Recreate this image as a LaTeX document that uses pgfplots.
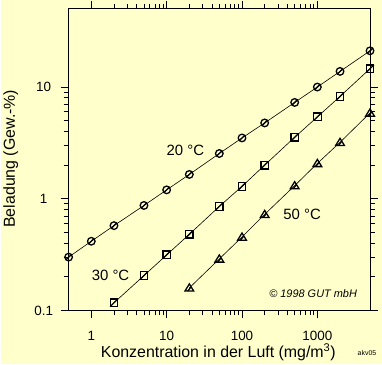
\documentclass[border=0pt]{standalone}
\usepackage{pgfplots}
\pgfplotsset{compat=1.18}
\usepackage{fontspec}
\setmainfont{Liberation Sans}
\definecolor{bg}{HTML}{FFFFCC}
\pgfdeclareplotmark{cslash}{%
  \pgfpathcircle{\pgfpointorigin}{\pgfplotmarksize}\pgfusepathqstroke
  \pgfpathmoveto{\pgfpoint{-0.7\pgfplotmarksize}{-0.7\pgfplotmarksize}}%
  \pgfpathlineto{\pgfpoint{0.7\pgfplotmarksize}{0.7\pgfplotmarksize}}\pgfusepathqstroke}
\pgfdeclareplotmark{sslash}{%
  \pgfpathrectangle{\pgfpoint{-\pgfplotmarksize}{-\pgfplotmarksize}}{\pgfpoint{2\pgfplotmarksize}{2\pgfplotmarksize}}\pgfusepathqstroke
  \pgfpathmoveto{\pgfpoint{-\pgfplotmarksize}{-\pgfplotmarksize}}%
  \pgfpathlineto{\pgfpoint{\pgfplotmarksize}{\pgfplotmarksize}}\pgfusepathqstroke}
\pgfdeclareplotmark{tslash}{%
  \pgfpathmoveto{\pgfpoint{0pt}{\pgfplotmarksize}}%
  \pgfpathlineto{\pgfpoint{-1.1\pgfplotmarksize}{-0.8\pgfplotmarksize}}%
  \pgfpathlineto{\pgfpoint{1.1\pgfplotmarksize}{-0.8\pgfplotmarksize}}%
  \pgfpathclose\pgfusepathqstroke
  \pgfpathmoveto{\pgfpoint{-0.4\pgfplotmarksize}{-0.8\pgfplotmarksize}}%
  \pgfpathlineto{\pgfpoint{0.4\pgfplotmarksize}{0.2\pgfplotmarksize}}\pgfusepathqstroke}
\begin{document}
\begin{tikzpicture}[x=1bp,y=1bp]
\fill[bg] (0,0) rectangle (382,365);
\begin{axis}[at={(68bp,54bp)}, anchor=south west, scale only axis,
  width=302bp, height=302bp,
  xmode=log, ymode=log, xmin=0.5, xmax=5000, ymin=0.1, ymax=50,
  axis line style={line width=1bp},
  tick style={black, line width=0.9bp},
  tick align=outside, major tick length=8bp, minor tick length=5bp,
  xtick={1,10,100,1000}, xticklabels={1,10,100,1000},
  ytick={0.1,1,10}, yticklabels={0.1,1,10},
  xticklabel style={font=\fontsize{13.5}{14}\selectfont, anchor=center, yshift=-18bp},
  yticklabel style={font=\fontsize{13.5}{14}\selectfont, anchor=center, xshift=-17bp},
  clip=false]
\addplot[black, line width=0.6bp, mark=cslash, mark size=3.8bp, mark options={line width=1.3bp}] coordinates {
(0.5,0.30) (1,0.416) (2,0.574) (5,0.87) (10,1.20) (20,1.65) (50,2.54) (100,3.5) (200,4.77) (500,7.28) (1000,10.0) (2000,13.8) (5000,21.1)};
\addplot[black, line width=0.6bp, mark=sslash, mark size=3.8bp, mark options={line width=1.3bp}] coordinates {
(2,0.117) (5,0.205) (10,0.314) (20,0.48) (50,0.853) (100,1.29) (200,2.0) (500,3.55) (1000,5.4) (2000,8.24) (5000,14.6)};
\addplot[black, line width=0.6bp, mark=tslash, mark size=4bp, mark options={line width=1.3bp}] coordinates {
(20,0.159) (50,0.289) (100,0.454) (200,0.724) (500,1.31) (1000,2.07) (2000,3.2) (5000,5.86)};
\end{axis}
\node[font=\fontsize{16}{18}\selectfont] at (218,12) {Konzentration in der Luft (mg/m\textsuperscript{3})};
\node[font=\fontsize{16}{18}\selectfont, rotate=90] at (10,206) {Beladung (Gew.-\%)};
\node[font=\fontsize{15}{17}\selectfont] at (185,214) {20 °C};
\node[font=\fontsize{15}{17}\selectfont] at (110,89) {30 °C};
\node[font=\fontsize{15}{17}\selectfont] at (302,150) {50 °C};
\node[font=\fontsize{11}{13}\selectfont\itshape] at (313,71) {© 1998 GUT mbH};
\node[font=\fontsize{7}{8}\selectfont] at (367,11) {akv05};
\end{tikzpicture}
\end{document}
